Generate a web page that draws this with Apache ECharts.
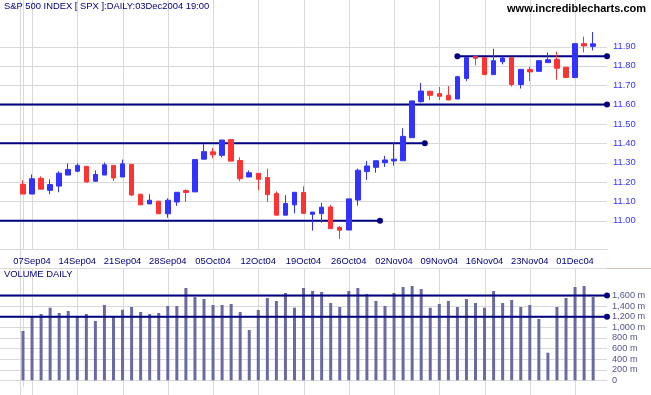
<!DOCTYPE html>
<html><head><meta charset="utf-8">
<script src="https://cdn.jsdelivr.net/npm/echarts@6/dist/echarts.min.js"></script>
<style>html,body{margin:0;padding:0;background:#fff}#c{width:651px;height:395px}</style>
</head><body><div id="c"></div>
<script>
// ---- data ----
const dates = ["03Sep04","07Sep04","08Sep04","09Sep04","10Sep04","13Sep04","14Sep04","15Sep04","16Sep04","17Sep04",
"20Sep04","21Sep04","22Sep04","23Sep04","24Sep04","27Sep04","28Sep04","29Sep04","30Sep04","01Oct04",
"04Oct04","05Oct04","06Oct04","07Oct04","08Oct04","11Oct04","12Oct04","13Oct04","14Oct04","15Oct04",
"18Oct04","19Oct04","20Oct04","21Oct04","22Oct04","25Oct04","26Oct04","27Oct04","28Oct04","29Oct04",
"01Nov04","02Nov04","03Nov04","04Nov04","05Nov04","08Nov04","09Nov04","10Nov04","11Nov04","12Nov04",
"15Nov04","16Nov04","17Nov04","18Nov04","19Nov04","22Nov04","23Nov04","24Nov04","26Nov04","29Nov04",
"30Nov04","01Dec04","02Dec04","03Dec04"];
const opens = [11.188,11.138,11.219,11.157,11.179,11.236,11.256,11.281,11.204,11.236,
11.286,11.226,11.291,11.137,11.087,11.101,11.036,11.097,11.156,11.149,
11.318,11.356,11.338,11.419,11.311,11.226,11.245,11.223,11.141,11.029,
11.082,11.146,11.033,11.037,11.071,10.966,10.952,11.107,11.254,11.276,
11.300,11.309,11.310,11.429,11.615,11.669,11.657,11.648,11.629,11.735,
11.849,11.843,11.755,11.821,11.843,11.704,11.782,11.772,11.817,11.834,
11.793,11.740,11.915,11.901];
const closes = [11.138,11.217,11.163,11.187,11.246,11.265,11.286,11.200,11.239,11.289,
11.221,11.294,11.133,11.082,11.106,11.036,11.106,11.147,11.146,11.316,
11.357,11.341,11.417,11.308,11.217,11.248,11.214,11.135,11.029,11.089,
11.147,11.038,11.045,11.070,10.959,10.951,11.113,11.261,11.283,11.310,
11.314,11.318,11.436,11.619,11.670,11.648,11.643,11.624,11.744,11.843,
11.839,11.755,11.827,11.841,11.704,11.782,11.769,11.827,11.832,11.788,
11.740,11.915,11.903,11.914];
const lows = [11.138,11.138,11.163,11.137,11.147,11.236,11.251,11.200,11.204,11.236,
11.205,11.226,11.128,11.082,11.087,11.036,11.015,11.077,11.097,11.149,
11.318,11.323,11.328,11.308,11.204,11.226,11.157,11.097,11.029,11.029,
11.038,11.038,10.949,10.990,10.959,10.906,10.952,11.078,11.211,11.248,
11.278,11.285,11.310,11.429,11.610,11.624,11.624,11.624,11.629,11.721,
11.803,11.755,11.755,11.808,11.693,11.683,11.721,11.772,11.817,11.729,
11.740,11.740,11.870,11.880];
const highs = [11.209,11.239,11.229,11.214,11.255,11.296,11.296,11.281,11.260,11.301,
11.286,11.316,11.291,11.137,11.137,11.101,11.116,11.147,11.163,11.316,
11.398,11.376,11.417,11.419,11.327,11.260,11.245,11.269,11.152,11.132,
11.147,11.178,11.045,11.092,11.082,10.973,11.113,11.269,11.309,11.310,
11.335,11.407,11.478,11.619,11.712,11.669,11.691,11.696,11.749,11.843,
11.857,11.843,11.889,11.849,11.843,11.782,11.796,11.827,11.869,11.874,
11.793,11.915,11.951,11.975];
const volumes = [930,1213,1251,1370,1270,1308,1213,1251,1119,1421,
1200,1332,1383,1289,1251,1270,1402,1402,1742,1572,
1534,1421,1421,1440,1289,949,1327,1553,1496,1647,
1370,1742,1685,1666,1459,1383,1685,1742,1628,1496,
1402,1647,1760,1779,1723,1370,1440,1496,1383,1534,
1459,1370,1685,1459,1515,1383,1421,1157,521,1383,
1553,1760,1779,1572];
const xTickLabels = ["07Sep04","14Sep04","21Sep04","28Sep04","05Oct04","12Oct04","19Oct04","26Oct04","02Nov04","09Nov04","16Nov04","23Nov04","01Dec04"];
const priceTicks = [11.00,11.10,11.20,11.30,11.40,11.50,11.60,11.70,11.80,11.90];
const volumeTicks = [0,200,400,600,800,1000,1200,1400,1600];
// horizontal trend lines: level, start (day index, null = chart edge), end (day index, null = chart edge)
const priceLineLevels = [11.00, 11.40, 11.60, 11.85];
const priceLineStarts = [null, null, null, 48];
const priceLineEnds = [39.45, 44.4, null, null];
const volumeLineLevels = [1600, 1200];

// ---- chart ----
const X_MIN = -2.54, X_MAX = 64.53;
const P_MIN = 10.854, P_MAX = 12.1405;
const V_MIN = -121, V_MAX = 2119, V_TICKEND = -278;
const tickIdx = xTickLabels.map(l => dates.indexOf(l));
const NAVY = '#000080', GRIDC = '#d9d9d9';
const candles = dates.map((d, i) => [i, opens[i], closes[i], lows[i], highs[i]]);
const vols = dates.map((d, i) => [i, volumes[i]]);

function hLine(level, s, e, xi, yi) {
  const x0 = s == null ? X_MIN : s, x1 = e == null ? X_MAX : e;
  return {
    type: 'line', xAxisIndex: xi, yAxisIndex: yi, silent: true, clip: false, z: yi === 0 ? 1 : 3,
    symbol: 'circle', symbolSize: 6, showSymbol: true,
    itemStyle: {color: NAVY}, lineStyle: {color: NAVY, width: 2},
    data: [ {value: [x0, level], symbol: s == null ? 'none' : 'circle'},
            {value: [x1, level], symbol: 'circle'} ],
    animation: false
  };
}
// gridlines drawn through the axes' scales with custom series
function vGrid(xi, yi, yLo, yHi) {
  return {
    type: 'custom', xAxisIndex: xi, yAxisIndex: yi, clip: false, z: 1, animation: false,
    data: tickIdx.map(v => [v, yHi]), encode: {x: 0, y: 1},
    renderItem: (params, api) => {
      const a = api.coord([api.value(0), yLo]), b = api.coord([api.value(0), yHi]);
      const x = Math.round(a[0]) + 0.5;
      return {type: 'line', shape: {x1: x, y1: a[1], x2: x, y2: b[1]}, style: {stroke: GRIDC, lineWidth: 1}};
    }
  };
}
function hGrid(xi, yi, ticks) {
  return {
    type: 'custom', xAxisIndex: xi, yAxisIndex: yi, clip: false, z: 1, animation: false,
    data: ticks.map(v => [0, v]), encode: {x: 0, y: 1},
    renderItem: (params, api) => {
      const a = api.coord([X_MIN, api.value(1)]), b = api.coord([X_MAX, api.value(1)]);
      const y = Math.round(a[1]) + 0.5;
      return {type: 'line', shape: {x1: a[0], y1: y, x2: b[0], y2: y}, style: {stroke: GRIDC, lineWidth: 1}};
    }
  };
}
const xAxisCommon = {
  type: 'value', min: X_MIN, max: X_MAX,
  axisLine: {show: true, lineStyle: {color: GRIDC, width: 1}},
  axisTick: {show: false},
  splitLine: {show: false}
};
const labelFont = 'Liberation Sans, Arial, sans-serif';
const chart = echarts.init(document.getElementById('c'), null, {renderer: 'canvas'});
const series = [
  vGrid(0, 0, P_MIN, P_MAX),
  hGrid(0, 0, priceTicks),
  vGrid(1, 1, V_TICKEND, V_MAX),
  hGrid(1, 1, volumeTicks),
  {
    type: 'candlestick', xAxisIndex: 0, yAxisIndex: 0, z: 2,
    data: candles, encode: {x: 0, y: [1, 2, 3, 4]},
    barWidth: 5,
    itemStyle: {color: '#3333ff', color0: '#ff3333', borderColor: '#3333ff', borderColor0: '#ff3333', borderWidth: 1},
    animation: false
  },
  {
    type: 'bar', xAxisIndex: 1, yAxisIndex: 1, z: 2,
    data: vols, barWidth: 3, itemStyle: {color: '#6a6aa2'}, animation: false
  }
];
priceLineLevels.forEach((lv, k) => series.push(hLine(lv, priceLineStarts[k], priceLineEnds[k], 0, 0)));
volumeLineLevels.forEach(lv => series.push(hLine(lv, null, null, 1, 1)));

chart.setOption({
  animation: false,
  backgroundColor: '#ffffff',
  grid: [
    {left: 0, right: 44, top: 0, height: 249},
    {left: 0, right: 44, top: 268, height: 118.7}
  ],
  xAxis: [
    Object.assign({}, xAxisCommon, {
      gridIndex: 0,
      axisLabel: {show: true, customValues: tickIdx, formatter: v => dates[Math.round(v)],
        color: NAVY, fontSize: 9.4, fontFamily: labelFont, margin: 8}
    }),
    Object.assign({}, xAxisCommon, {
      gridIndex: 1,
      axisLabel: {show: false}
    })
  ],
  yAxis: [
    {
      type: 'value', gridIndex: 0, position: 'right', min: P_MIN, max: P_MAX,
      axisLine: {show: true, lineStyle: {color: GRIDC}},
      axisTick: {show: false},
      axisLabel: {customValues: priceTicks, formatter: v => v.toFixed(2), color: '#3333ff',
        fontSize: 9.4, fontFamily: labelFont, margin: 6},
      splitLine: {show: false}
    },
    {
      type: 'value', gridIndex: 1, position: 'right', min: V_MIN, max: V_MAX,
      axisLine: {show: true, lineStyle: {color: GRIDC}},
      axisTick: {show: false},
      axisLabel: {customValues: volumeTicks,
        formatter: v => v === 0 ? '0' : v.toLocaleString('en-US') + ' m',
        color: '#55558c', fontSize: 9.2, fontFamily: labelFont, margin: 5},
      splitLine: {show: false}
    }
  ],
  graphic: [
    {type: 'line', z: 0, silent: true, shape: {x1: 20.5, y1: 0, x2: 20.5, y2: 395}, style: {stroke: GRIDC, lineWidth: 1}},
    {type: 'line', z: 1, silent: true, shape: {x1: 0, y1: 268.5, x2: 651, y2: 268.5}, style: {stroke: GRIDC, lineWidth: 1}},
    {type: 'line', z: 1, silent: true, shape: {x1: 607, y1: 268.5, x2: 651, y2: 268.5}, style: {stroke: '#c8c2ac', lineWidth: 1}},
    {type: 'text', z: 10, left: 4, top: 2, style: {text: 'S&P 500 INDEX [ SPX ]:DAILY:03Dec2004 19:00',
      fill: NAVY, font: '9.4px ' + labelFont}},
    {type: 'text', z: 10, right: 5, top: 3, style: {text: 'www.incrediblecharts.com',
      fill: '#000000', font: 'bold 11px ' + labelFont}},
    {type: 'text', z: 10, left: 4, top: 270, style: {text: 'VOLUME DAILY',
      fill: NAVY, font: '9.4px ' + labelFont}}
  ],
  series: series
});
</script>
</body></html>
